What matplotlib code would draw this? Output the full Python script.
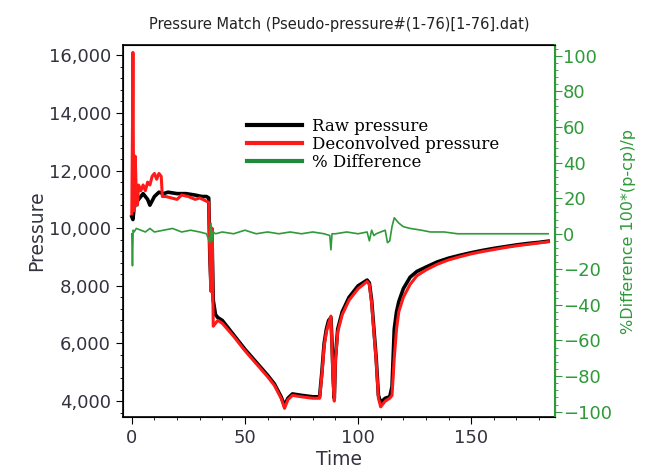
import numpy as np
import matplotlib.pyplot as plt
from matplotlib.ticker import MultipleLocator, FuncFormatter
from matplotlib.lines import Line2D

# raw pressure (black)
t_raw = [0, 0.5, 1, 2, 3, 4, 5, 7, 8, 10, 12, 14, 16, 20, 24, 28, 31, 33, 34, 34.5,
         35, 35.5, 36, 37, 38, 40, 45, 50, 55, 60, 63, 66, 67.5, 69, 71, 75, 80, 83,
         84, 85, 86, 87, 88, 88.5, 89, 89.5, 90, 91, 93, 96, 100, 104, 105, 106, 107,
         108, 109, 110, 112, 114, 115, 115.5, 116, 117, 118, 120, 123, 126, 130, 135,
         140, 145, 150, 155, 160, 165, 170, 175, 180, 184]
p_raw = [10400, 10300, 10700, 10900, 11000, 11100, 11200, 11000, 10800, 11100, 11250,
         11200, 11250, 11200, 11200, 11150, 11100, 11100, 11050, 9000,
         8000, 9500, 7500, 7000, 6900, 6800, 6300, 5800, 5350, 4900, 4600, 4150, 3850,
         4100, 4250, 4200, 4150, 4150, 5000, 6000, 6500, 6800, 6900, 6000, 4800, 4100,
         5500, 6500, 7100, 7600, 8000, 8200, 8100, 7500, 6500, 5500, 4200, 3950, 4100,
         4150, 4500, 5500, 6500, 7100, 7450, 7900, 8300, 8500, 8650, 8830, 8960, 9060,
         9150, 9230, 9300, 9360, 9420, 9470, 9510, 9550]

# deconvolved pressure (red)
t_dec = [0, 0.3, 0.5, 0.8, 1, 1.5, 2, 2.5, 3, 4, 5, 6, 7, 8, 9, 10, 11, 12, 13, 13.5,
         15, 20, 22, 25, 28, 30, 34, 34.5, 35, 35.5, 36, 37, 38, 40, 45, 50, 55, 60, 63,
         66, 67.5, 69, 71, 75, 80, 83, 84, 85, 86, 87, 88, 88.5, 89, 89.5, 90, 91, 93,
         96, 100, 104, 105, 106, 107, 108, 109, 110, 112, 114, 115, 116, 117, 118, 120,
         123, 126, 130, 135, 140, 145, 150, 155, 160, 165, 170, 175, 180, 184]
p_dec = [10500, 13500, 16100, 11000, 10600, 12500, 11200, 10800, 11500, 11300, 11500,
         11300, 11600, 11500, 11800, 11900, 11700, 11900, 11800, 11100,
         11100, 11000, 11150, 11100, 11000, 11050, 10900, 9000, 7800, 10000, 6600, 6700,
         6800, 6700, 6250, 5750, 5300, 4850, 4550, 4100, 3750, 4050, 4200, 4150, 4100,
         4100, 4900, 5900, 6400, 6700, 6950, 5800, 4600, 4000, 5400, 6400, 7000, 7500,
         7900, 8150, 8050, 7400, 6400, 5400, 4100, 3800, 4000, 4100, 4200, 5500, 6500,
         7100, 7600, 8050, 8350, 8550, 8750, 8900, 9010, 9110, 9190, 9260, 9330, 9390,
         9440, 9490, 9530]

# % difference (green, right axis)
t_diff = [0, 0.3, 0.6, 1, 2, 4, 6, 8, 10, 14, 18, 22, 26, 30, 33, 34.5, 35, 35.5, 36,
          37, 40, 45, 50, 55, 60, 65, 70, 75, 80, 85, 87.5, 88, 88.5, 90, 95, 100, 104,
          105, 106, 107, 108, 110, 112, 113, 114, 115, 116, 118, 120, 123, 128, 132,
          138, 144, 150, 160, 170, 184]
d_diff = [0, -18, 2, 1, 3, 2, 1, 3, 1, 2, 3, 1, 2, 1, 0, -5, 6, -4, 1, 0, 1, 0, 2, 0,
          1, 0, 1, 0, 1, 0, -1, -9, 0, 0, 1, 0, 1, -4, 2, -1, 0, 1, 2, -5, -4, 4, 9, 6,
          4, 3, 2, 1, 1, 0, 0, 0, 0, 0]

green = '#2f9a3a'
txt = '#333340'

fig = plt.figure(figsize=(6.46, 4.76), dpi=100)
ax = fig.add_axes([0.190, 0.124, 0.669, 0.781])
ax2 = ax.twinx()

ax.plot(t_raw, p_raw, color='black', lw=2.6, zorder=2)
ax.plot(t_dec, p_dec, color='#ff1a1a', lw=2.2, zorder=3)
ax2.plot(t_diff, d_diff, color=green, lw=1.2)

ax.set_xlim(-4, 187)
ax.set_ylim(3450, 16350)
ax2.set_ylim(-103, 106)

ax.xaxis.set_major_locator(MultipleLocator(50))
ax.xaxis.set_minor_locator(MultipleLocator(10))
ax.yaxis.set_major_locator(MultipleLocator(2000))
ax.yaxis.set_minor_locator(MultipleLocator(400))
ax.yaxis.set_major_formatter(FuncFormatter(lambda v, p: f'{int(v):,}'))
ax2.yaxis.set_major_locator(MultipleLocator(20))
ax2.yaxis.set_minor_locator(MultipleLocator(4))

ax.tick_params(axis='both', which='major', labelsize=13, length=5, colors='black', labelcolor=txt)
ax.tick_params(axis='both', which='minor', length=2.5)
ax2.tick_params(axis='y', which='major', labelsize=13, length=5, colors=green, labelcolor=green, pad=1)
ax2.tick_params(axis='y', which='minor', length=2.5, colors=green)
ax2.spines['right'].set_color(green)
ax2.spines['right'].set_linewidth(1.5)
for s in ['left', 'bottom', 'top']:
    ax.spines[s].set_linewidth(1.2)

ax.set_xlabel('Time', fontsize=13.5, color=txt, labelpad=2)
ax.set_ylabel('Pressure', fontsize=13.5, color=txt, labelpad=2)
ax2.set_ylabel('%Difference 100*(p-cp)/p', fontsize=11.5, color=green, labelpad=6)
ax.set_title('Pressure Match (Pseudo-pressure#(1-76)[1-76].dat)', fontsize=10.5, color='#222222', pad=12)

handles = [Line2D([], [], color='black', lw=3),
           Line2D([], [], color='#ff1a1a', lw=3),
           Line2D([], [], color='#1f8a3a', lw=3)]
labels = ['Raw pressure', 'Deconvolved pressure', '% Difference']
ax2.legend(handles, labels, loc='upper left', bbox_to_anchor=(0.26, 0.835), frameon=False,
           prop={'family': 'DejaVu Serif', 'size': 12}, handlelength=3.3,
           labelspacing=0.05, handletextpad=0.6, borderpad=0.2)

fig.savefig('out.png', dpi=100)
